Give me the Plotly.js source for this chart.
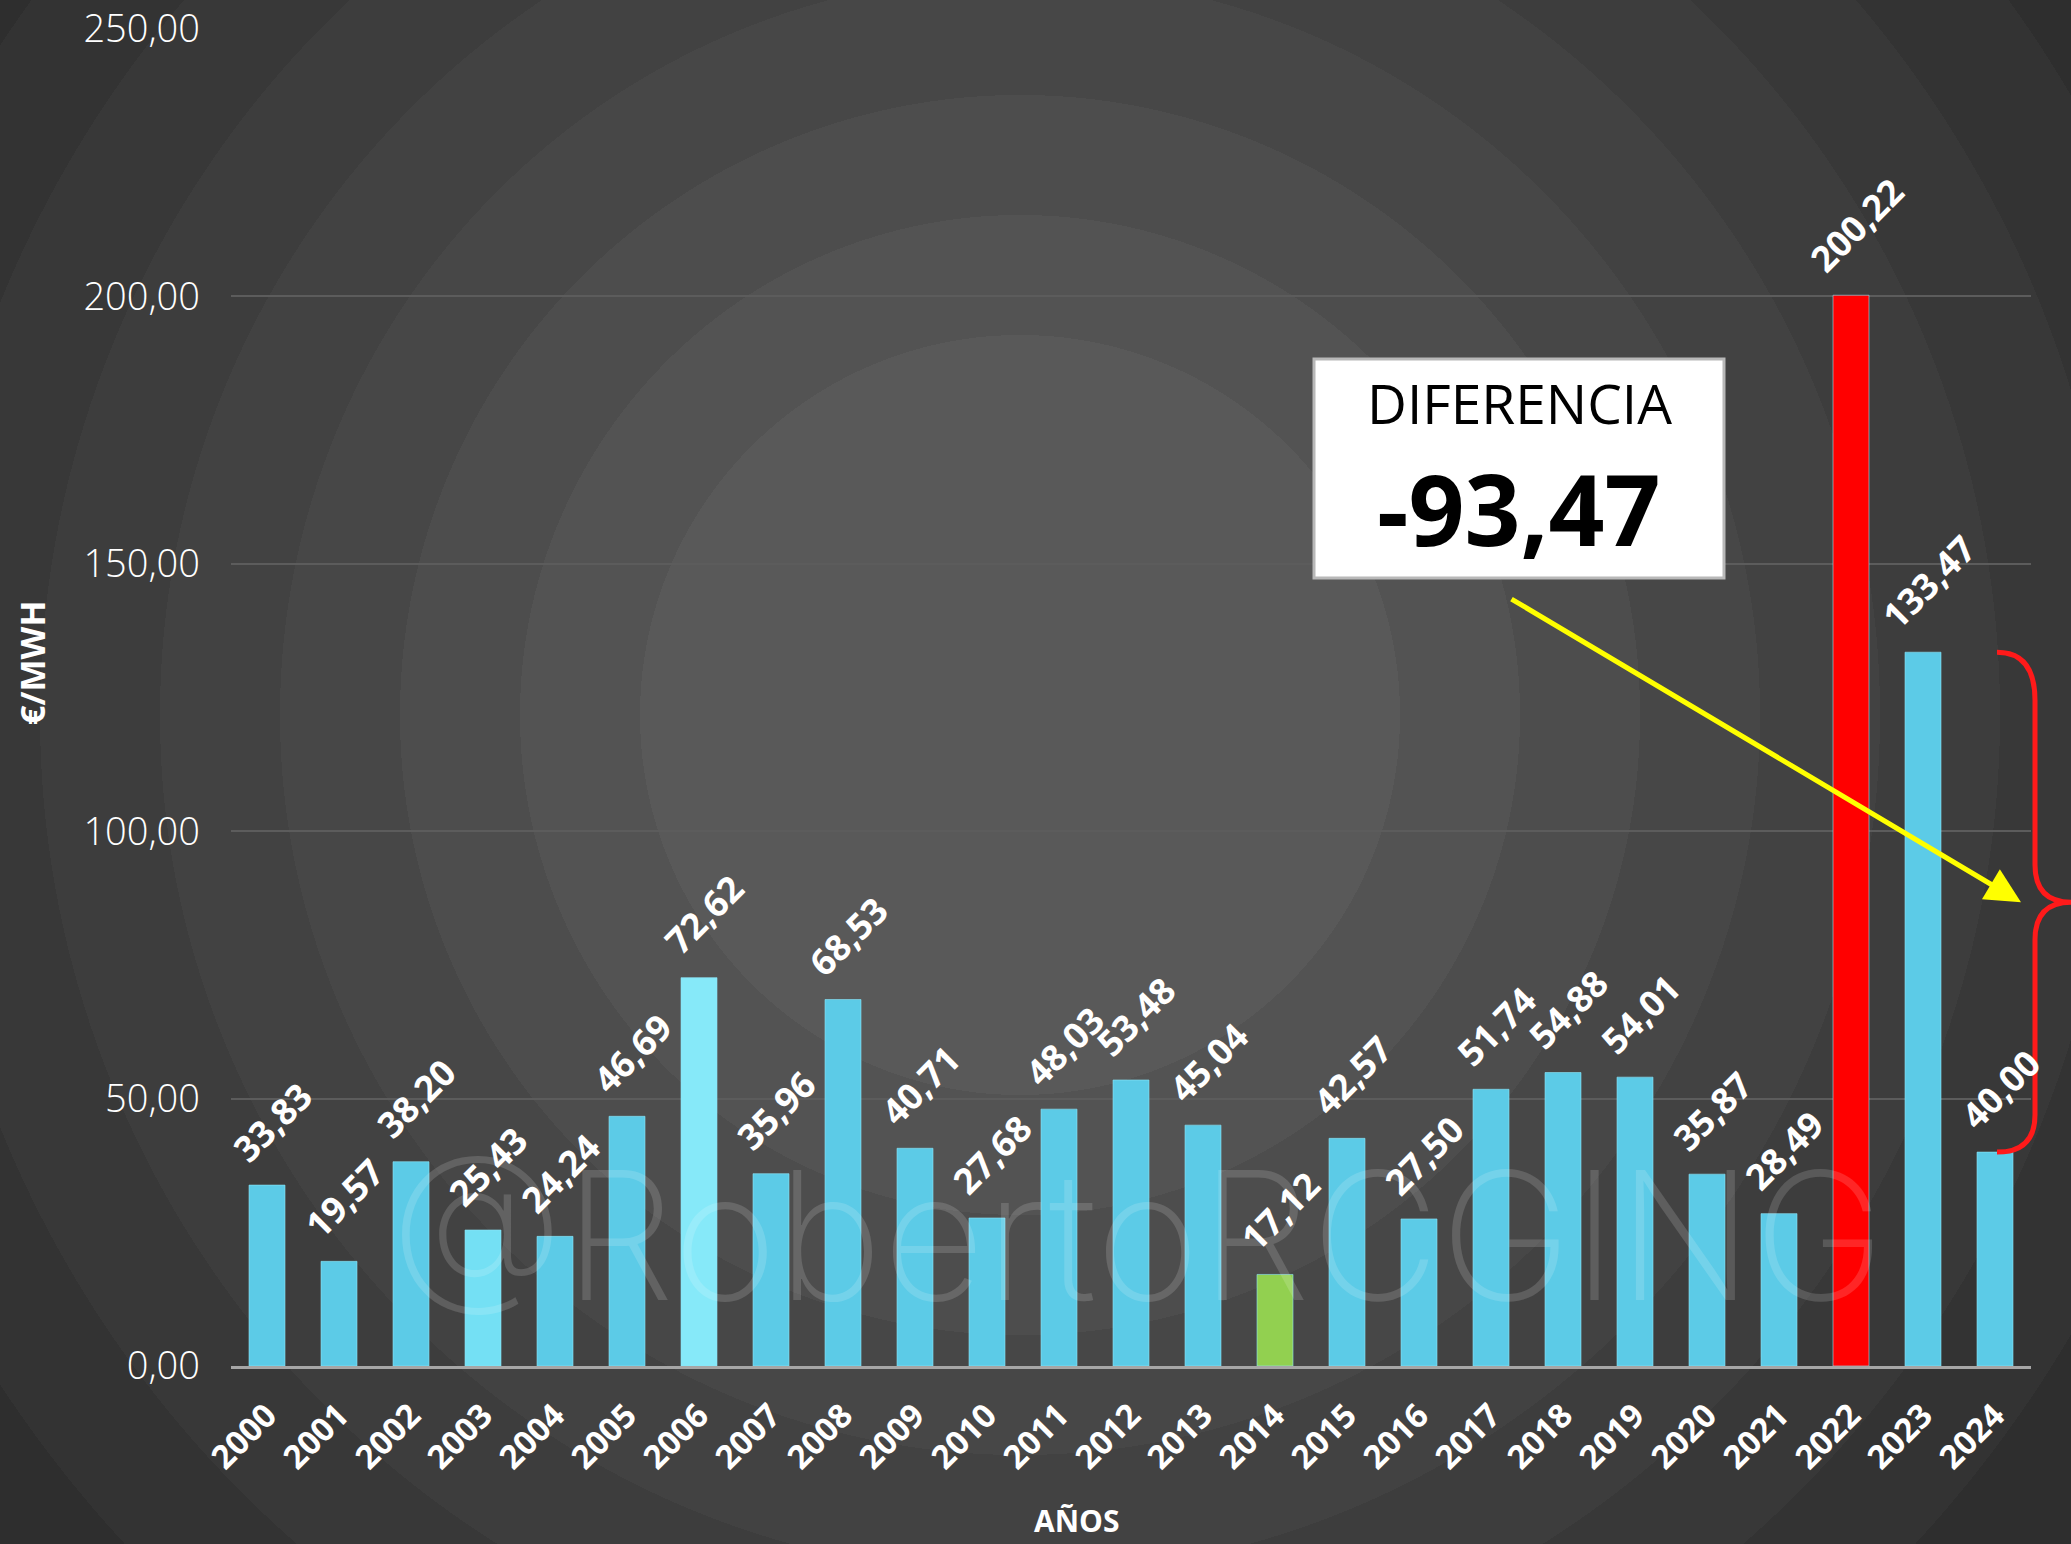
<!DOCTYPE html>
<html>
<head>
<meta charset="utf-8">
<script src="https://cdn.plot.ly/plotly-3.0.1.min.js"></script>
<style>
html, body { margin: 0; padding: 0; background: #2a2a2a; }
#chart {
  width: 2071px; height: 1544px;
  background: radial-gradient(circle at 1020px 715px,
    #595959 0px, #595959 380px,
    #535353 380px, #535353 500px,
    #4d4d4d 500px, #4d4d4d 620px,
    #474747 620px, #474747 740px,
    #424242 740px, #424242 860px,
    #3d3d3d 860px, #3d3d3d 980px,
    #383838 980px, #383838 1100px,
    #333333 1100px, #333333 1220px,
    #2e2e2e 1220px, #2e2e2e 1340px,
    #292929 1340px);
}
</style>
</head>
<body>
<div id="chart"></div>
<script>
// ---- data ----
const years = ['2000','2001','2002','2003','2004','2005','2006','2007','2008','2009',
               '2010','2011','2012','2013','2014','2015','2016','2017','2018','2019',
               '2020','2021','2022','2023','2024'];
const prices = [33.83, 19.57, 38.20, 25.43, 24.24, 46.69, 72.62, 35.96, 68.53, 40.71,
                27.68, 48.03, 53.48, 45.04, 17.12, 42.57, 27.50, 51.74, 54.88, 54.01,
                35.87, 28.49, 200.22, 133.47, 40.00];
const yTicks = [0, 50, 100, 150, 200, 250];
const boxTitle = 'DIFERENCIA';
const difference = prices[prices.length - 1] - prices[prices.length - 2]; // 40,00 - 133,47
const watermark = '@RobertoRCGING';
const xTitle = 'AÑOS';
const yTitle = '€/MWH';

// ---- styling helpers ----
const fmt = v => v.toFixed(2).replace('.', ',');
const baseColor = '#5ccbe7';
const specialColors = { '2014': '#92d050', '2022': '#ff0000', '2006': '#86e9f9', '2003': '#74e0f4' };
const barColors = years.map(y => specialColors[y] || baseColor);
const boldFont = 'Open Sans, Lato, DejaVu Sans, sans-serif';

// geometry of plot area (pixels)
const W = 2071, H = 1544;
const M = { l: 231, r: 40, t: 29, b: 178 };
const PW = W - M.l - M.r, PH = H - M.t - M.b;
const px = x => (x - M.l) / PW;          // pixel -> paper x
const py = y => (H - M.b - y) / PH;      // pixel -> paper y

const annotations = [];

// value labels (x given as category index)
years.forEach((yr, i) => {
  annotations.push({
    x: i, y: prices[i], xref: 'x', yref: 'y',
    text: fmt(prices[i]), showarrow: false, textangle: -45,
    xanchor: 'center', yanchor: 'bottom', yshift: 10, xshift: 5,
    font: { family: boldFont, size: 36, color: '#ffffff', weight: 'bold' }
  });
});

// axis titles
annotations.push({
  x: px(32), y: py(663), xref: 'paper', yref: 'paper', text: yTitle,
  showarrow: false, textangle: -90, xanchor: 'center', yanchor: 'middle',
  font: { family: boldFont, size: 34, color: '#ffffff', weight: 'bold' }
});
annotations.push({
  x: px(1077), y: py(1520), xref: 'paper', yref: 'paper', text: xTitle,
  showarrow: false, xanchor: 'center', yanchor: 'middle',
  font: { family: boldFont, size: 30, color: '#ffffff', weight: 'bold' }
});

// watermark
annotations.push({
  x: px(1137), y: py(1235), xref: 'paper', yref: 'paper', text: watermark,
  showarrow: false, xanchor: 'center', yanchor: 'middle',
  font: { family: 'Inter, Open Sans, sans-serif', size: 178, color: 'rgba(255,255,255,0.15)', weight: 200 }
});

// box texts
annotations.push({
  x: px(1519), y: py(403), xref: 'paper', yref: 'paper', text: boxTitle,
  showarrow: false, xanchor: 'center', yanchor: 'middle',
  font: { family: 'Open Sans, sans-serif', size: 55, color: '#000000' }
});
annotations.push({
  x: px(1519), y: py(508), xref: 'paper', yref: 'paper', text: fmt(difference),
  showarrow: false, xanchor: 'center', yanchor: 'middle',
  font: { family: boldFont, size: 98, color: '#000000', weight: 'bold' }
});

// yellow arrow pointing at the brace middle
const braceTop = prices[prices.length - 2], braceBot = prices[prices.length - 1];
const braceMid = (braceTop + braceBot) / 2;
annotations.push({
  x: px(2021), y: braceMid, xref: 'paper', yref: 'y', text: '',
  showarrow: true, ax: -511, ay: -304, axref: 'pixel', ayref: 'pixel',
  arrowcolor: '#ffff00', arrowwidth: 5, arrowhead: 2, arrowsize: 1.4, standoff: 0
});

const shapes = [
  { type: 'rect', xref: 'paper', yref: 'paper', x0: px(1314), x1: px(1724), y0: py(578), y1: py(359),
    fillcolor: '#ffffff', line: { color: '#b8b8b8', width: 3 }, layer: 'above' },
  { type: 'path', xref: 'paper', yref: 'y', layer: 'above',
    path: `M ${px(1997)},${braceTop} Q ${px(2035)},${braceTop} ${px(2035)},${braceTop - 9}` +
          ` L ${px(2035)},${braceMid + 7} Q ${px(2035)},${braceMid} ${px(2071)},${braceMid}` +
          ` Q ${px(2035)},${braceMid} ${px(2035)},${braceMid - 7}` +
          ` L ${px(2035)},${braceBot + 7} Q ${px(2035)},${braceBot} ${px(1997)},${braceBot}`,
    line: { color: '#ff1a1a', width: 5 } }
];

const trace = {
  type: 'bar', x: years, y: prices,
  marker: { color: barColors, line: { color: 'rgba(140,230,248,0.6)', width: 1 } },
  width: 0.5, hoverinfo: 'skip'
};

const layout = {
  width: W, height: H,
  margin: M,
  paper_bgcolor: 'rgba(0,0,0,0)', plot_bgcolor: 'rgba(0,0,0,0)',
  showlegend: false,
  xaxis: {
    type: 'category', range: [-0.5, 24.5], tickangle: -45, ticks: '', showgrid: false,
    showline: true, linecolor: '#a6a6a6', linewidth: 3, zeroline: false,
    tickfont: { family: boldFont, size: 33, color: '#ffffff', weight: 'bold' },
    ticklabelstandoff: 14, fixedrange: true
  },
  yaxis: {
    range: [0, 250], tickvals: yTicks, ticktext: yTicks.map(fmt),
    showgrid: true, gridcolor: '#5c5c5c', gridwidth: 2, zeroline: false, showline: false, ticks: '',
    tickfont: { family: 'Open Sans, Lato, sans-serif', size: 38, color: '#ffffff', weight: 300 },
    ticklabelstandoff: 30, fixedrange: true
  },
  annotations: annotations,
  shapes: shapes
};

Plotly.newPlot('chart', [trace], layout, { displayModeBar: false, staticPlot: true });
</script>
</body>
</html>
